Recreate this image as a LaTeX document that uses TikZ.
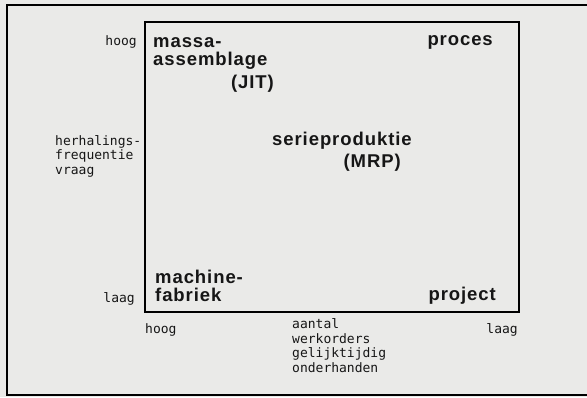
\documentclass[tikz,border=0pt]{standalone}
\usepackage{fontspec}
\newfontfamily\boldlab{Liberation Sans}[LetterSpace=5]
\newfontfamily\monolab{DejaVu Sans Mono}
\definecolor{paper}{RGB}{234,234,232}
\definecolor{ink}{RGB}{22,22,22}
\tikzset{
  big/.style={font=\boldlab\bfseries\fontsize{18.5}{20}\selectfont, inner sep=0pt, anchor=base west, text=ink},
  small/.style={font=\monolab\fontsize{13}{15}\selectfont, inner sep=0pt, anchor=base west, text=ink},
  frame/.style={draw=black, line width=2.2pt},
  inner/.style={draw=black, line width=1.8pt}
}
\begin{document}
\begin{tikzpicture}[x=1pt,y=-1pt]
\useasboundingbox (0,0) rectangle (587,397);
\fill[paper] (0,0) rectangle (587,397);
% outer frame
\draw[frame] (587,5) -- (7,5) -- (7,395) -- (587,395);
% inner box
\draw[inner] (145,22) rectangle (519,312);
% bold labels
\node[big] (massa1) at (153,47) {massa-};
\node[big] (massa2) at (153,65) {assemblage};
\node[big,anchor=base east] (jit) at (274,88) {(JIT)};
\node[big,anchor=base east] (proces) at (493,45) {proces};
\node[big] (serie) at (272,145) {serieproduktie};
\node[big,anchor=base east] (mrp) at (401,167) {(MRP)};
\node[big] (mach1) at (155,283) {machine-};
\node[big] (mach2) at (155,301) {fabriek};
\node[big,anchor=base east] (project) at (496,300) {project};
% small labels
\node[small,anchor=base east] (hoogL) at (137,45) {hoog};
\node[small] (herh1) at (55,145) {herhalings-};
\node[small] (herh2) at (55,159.5) {frequentie};
\node[small] (herh3) at (55,174) {vraag};
\node[small,anchor=base east] (laagL) at (135,302) {laag};
\node[small] (hoogB) at (145,333) {hoog};
\node[small,anchor=base east] (laagB) at (518,333) {laag};
\node[small] (aant1) at (292,328) {aantal};
\node[small] (aant2) at (292,343) {werkorders};
\node[small] (aant3) at (292,357.5) {gelijktijdig};
\node[small] (aant4) at (292,372) {onderhanden};
\end{tikzpicture}
\end{document}
